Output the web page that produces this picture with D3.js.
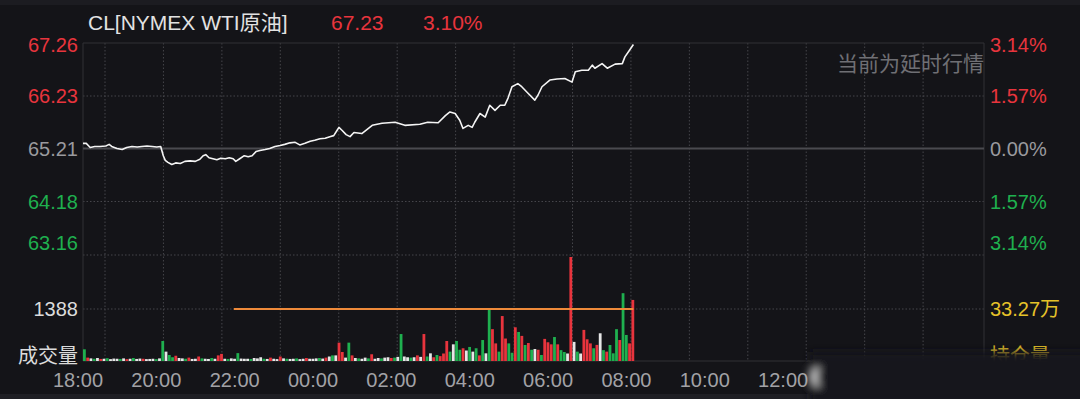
<!DOCTYPE html>
<html>
<head>
<meta charset="utf-8">
<script src="https://cdn.jsdelivr.net/npm/d3@7"></script>
<style>
  html, body { margin: 0; padding: 0; background: #141418; }
  svg { display: block; font-family: "Liberation Sans", "Noto Sans CJK SC", sans-serif; }
</style>
</head>
<body>
<div id="chart"></div>
<script>
// 分时数据: 距 18:00 的分钟数 和 价格
const priceMinutes = [
  0, 5, 11, 18, 26, 35, 40, 44, 52, 60,
  67, 75, 83, 90, 98, 106, 113, 119, 123, 126,
  130, 136, 142, 149, 156, 164, 172, 179, 184, 188,
  193, 199, 205, 211, 218, 224, 230, 234, 240, 247,
  253, 259, 265, 271, 279, 286, 294, 302, 309, 317,
  325, 332, 340, 348, 355, 363, 371, 378, 384, 389,
  392, 397, 403, 409, 415, 427, 443, 458, 478, 493,
  516, 528, 544, 555, 562, 570, 577, 582, 590, 596,
  600, 608, 616, 623, 631, 639, 646, 651, 657, 666,
  672, 682, 692, 697, 703, 715, 726, 738, 749, 754,
  764, 774, 780, 784, 795, 803, 815, 826, 830, 836,
  843
];
const priceValues = [
  65.31, 65.31, 65.23, 65.25, 65.25, 65.26, 65.29, 65.25, 65.21, 65.19,
  65.23, 65.25, 65.24, 65.25, 65.26, 65.25, 65.24, 65.25, 65.07, 64.98,
  64.94, 64.90, 64.93, 64.92, 64.96, 64.97, 64.96, 65.00, 65.07, 65.09,
  65.03, 65.01, 64.99, 65.02, 65.01, 65.03, 65.01, 64.96, 65.01, 65.07,
  65.05, 65.07, 65.15, 65.17, 65.19, 65.21, 65.25, 65.27, 65.29, 65.32,
  65.33, 65.28, 65.31, 65.35, 65.37, 65.40, 65.41, 65.44, 65.46, 65.56,
  65.62, 65.56, 65.48, 65.44, 65.52, 65.50, 65.66, 65.70, 65.72, 65.66,
  65.68, 65.72, 65.71, 65.85, 65.92, 65.89, 65.76, 65.60, 65.66, 65.62,
  65.72, 65.89, 65.82, 66.05, 65.95, 66.05, 66.05, 66.19, 66.41, 66.47,
  66.41, 66.28, 66.15, 66.25, 66.41, 66.54, 66.56, 66.57, 66.50, 66.70,
  66.73, 66.73, 66.83, 66.77, 66.86, 66.77, 66.85, 66.86, 66.99, 67.10,
  67.23
];

const prevClose = 65.21;
const priceTicks = [67.26, 66.23, 65.21, 64.18, 63.16];
const pctTicks = ["3.14%", "1.57%", "0.00%", "1.57%", "3.14%"];

// 5分钟成交量, 颜色: r 涨 g 跌 w 平
const volValues = [
  312, 90, 70, 60, 80, 55, 60, 75, 50, 65,
  60, 55, 70, 50, 60, 80, 55, 65, 60, 50,
  55, 60, 50, 70, 534, 250, 160, 100, 140, 80,
  70, 60, 90, 55, 60, 120, 70, 60, 55, 80,
  60, 150, 190, 60, 55, 70, 60, 210, 65, 60,
  60, 55, 80, 70, 100, 60, 55, 90, 60, 50,
  120, 70, 60, 55, 60, 70, 50, 60, 80, 60,
  60, 70, 80, 65, 90, 120, 150, 150, 490, 240,
  90, 490, 150, 80, 70, 60, 90, 70, 180, 60,
  80, 70, 90, 100, 80, 90, 110, 720, 120, 100,
  90, 100, 150, 110, 720, 120, 205, 100, 160, 130,
  200, 534, 250, 445, 534, 300, 340, 280, 375, 250,
  340, 150, 560, 205, 1388, 850, 470, 250, 1200, 600,
  470, 220, 900, 775, 670, 427, 480, 300, 320, 300,
  160, 590, 500, 445, 640, 445, 290, 240, 200, 2776,
  510, 250, 200, 830, 580, 470, 340, 430, 740, 290,
  250, 427, 205, 850, 560, 1810, 695, 470, 1630
];
const volDirs = [
  "grwgwrwgww", "wgwrwgwwrw", "wwgwgwggrw", "wgrwwrgwwg",
  "wrrwgwwgww", "wgwwwgwrww", "rwgwwgwwrw", "wwgwrwgwrr",
  "wgrwgwwgrw", "wgwwrgwgww", "gwrwrgwrgr", "rrgwggrwgw",
  "grgwgrrgrr", "ggrgrgrgwr", "grrrgrggwr", "wgwrrrgrwg",
  "rgggrggrr"
].join("").split("");
const volBinMinutes = 5;
const volTick = 1388;
const avgLineStart = 231; // 21:51

const timeLabels = ["18:00", "20:00", "22:00", "00:00", "02:00", "04:00",
  "06:00", "08:00", "10:00", "12:00", "14:00", "16:00"];

const W = 1080, H = 399;
const plot = { left: 83, right: 984, top: 43, priceBottom: 254, volTop: 256, volBottom: 361 };
const RED = "#e8343d", GREEN = "#1fb04f", WHITE = "#e6e6e6", GREY = "#9a9a9e";

const svg = d3.select("#chart").append("svg").attr("width", W).attr("height", H);

svg.append("rect").attr("width", W).attr("height", H).attr("fill", "#141418");
svg.append("rect").attr("width", W).attr("height", 5).attr("fill", "#1c1c21");
svg.append("rect").attr("y", 394).attr("width", W).attr("height", 5).attr("fill", "#1f1f24");

const x = d3.scaleLinear().domain([0, 23 * 60]).range([plot.left, plot.right]);
const yPrice = d3.scaleLinear().domain([63.16, 67.26]).range([plot.priceBottom, plot.top]);
const yVol = d3.scaleLinear().domain([0, volTick * 2]).range([plot.volBottom, plot.volTop + 1]);

// 网格
const grid = svg.append("g");
const gridHours = d3.range(15).map((i) => 0.5617 + i * 1.4917);
grid.selectAll(".vline").data(gridHours).enter().append("line")
  .attr("x1", (d) => x(d * 60)).attr("x2", (d) => x(d * 60))
  .attr("y1", plot.top).attr("y2", plot.volBottom)
  .attr("stroke", "#45454a").attr("stroke-dasharray", "1.5,2");

const dottedY = [yPrice(66.23), yPrice(64.18), 255, yVol(volTick)];
grid.selectAll(".hline").data(dottedY).enter().append("line")
  .attr("x1", plot.left).attr("x2", plot.right)
  .attr("y1", (d) => d).attr("y2", (d) => d)
  .attr("stroke", "#45454a").attr("stroke-dasharray", "1.5,2");

// 边框
grid.append("line").attr("x1", plot.left).attr("x2", plot.right)
  .attr("y1", plot.top).attr("y2", plot.top).attr("stroke", "#303035");
grid.append("line").attr("x1", plot.left).attr("x2", plot.right)
  .attr("y1", plot.volBottom).attr("y2", plot.volBottom).attr("stroke", "#303035");
grid.append("line").attr("x1", plot.left).attr("x2", plot.left)
  .attr("y1", plot.top).attr("y2", plot.volBottom).attr("stroke", "#303035");
grid.append("line").attr("x1", plot.right).attr("x2", plot.right)
  .attr("y1", plot.top).attr("y2", plot.volBottom).attr("stroke", "#303035");

// 昨收线
grid.append("line").attr("x1", plot.left).attr("x2", plot.right)
  .attr("y1", yPrice(prevClose)).attr("y2", yPrice(prevClose))
  .attr("stroke", "#4a4a4f").attr("stroke-width", 2);

// 成交量柱
const volData = volValues.map((v, i) => ({ t: i * volBinMinutes, v: v, dir: volDirs[i] }));
const barW = 2.8;
svg.append("g").selectAll("rect").data(volData).enter().append("rect")
  .attr("x", (d) => x(d.t))
  .attr("y", (d) => yVol(d.v))
  .attr("width", barW)
  .attr("height", (d) => plot.volBottom - yVol(d.v))
  .attr("fill", (d) => (d.dir === "r" ? RED : d.dir === "g" ? GREEN : WHITE));

// 均量线
svg.append("line")
  .attr("x1", x(avgLineStart)).attr("x2", x(volValues.length * volBinMinutes - 2))
  .attr("y1", yVol(volTick)).attr("y2", yVol(volTick))
  .attr("stroke", "#ef8a3a").attr("stroke-width", 2);

// 价格线
const priceData = priceMinutes.map((m, i) => ({ t: m, p: priceValues[i] }));
const line = d3.line().x((d) => x(d.t)).y((d) => yPrice(d.p));
svg.append("path").datum(priceData)
  .attr("d", line)
  .attr("fill", "none")
  .attr("stroke", "#f4f4f4")
  .attr("stroke-width", 1.6)
  .attr("stroke-linejoin", "round");

// 左右刻度
const tickColor = (v) => (v > prevClose ? RED : v < prevClose ? GREEN : GREY);
const labelY = (v) => Math.min(Math.max(yPrice(v), 45), 243);

svg.append("g").selectAll("text").data(priceTicks).enter().append("text")
  .attr("x", 78).attr("y", labelY).attr("dy", "0.35em")
  .attr("text-anchor", "end").attr("font-size", 20)
  .attr("fill", tickColor)
  .text((d) => d.toFixed(2));

svg.append("g").selectAll("text").data(priceTicks).enter().append("text")
  .attr("x", 990).attr("y", labelY).attr("dy", "0.35em")
  .attr("font-size", 20)
  .attr("fill", tickColor)
  .text((d, i) => pctTicks[i]);

svg.append("text").attr("x", 78).attr("y", yVol(volTick)).attr("dy", "0.35em")
  .attr("text-anchor", "end").attr("font-size", 20).attr("fill", "#dcdcdc").text(volTick);
svg.append("text").attr("x", 78).attr("y", 356).attr("dy", "0.35em")
  .attr("text-anchor", "end").attr("font-size", 20).attr("fill", "#dcdcdc").text("成交量");
svg.append("text").attr("x", 990).attr("y", yVol(volTick)).attr("dy", "0.35em")
  .attr("font-size", 20).attr("fill", "#e6c229").text("33.27万");
svg.append("text").attr("x", 990).attr("y", 356).attr("dy", "0.35em")
  .attr("font-size", 20).attr("fill", "#e6c229").text("持仓量");

// 时间轴
svg.append("g").selectAll("text").data(timeLabels).enter().append("text")
  .attr("x", (d, i) => x(i * 120) - 5).attr("y", 380).attr("dy", "0.35em")
  .attr("text-anchor", "middle").attr("font-size", 20).attr("fill", "#a2a2a6")
  .text((d) => d);

// 标题
svg.append("text").attr("x", 88).attr("y", 30).attr("font-size", 21)
  .attr("fill", "#e2e2e2").text("CL[NYMEX WTI原油]");
svg.append("text").attr("x", 331).attr("y", 30).attr("font-size", 21)
  .attr("fill", RED).text(priceValues[priceValues.length - 1].toFixed(2));
svg.append("text").attr("x", 423).attr("y", 30).attr("font-size", 21)
  .attr("fill", RED).text("3.10%");
svg.append("text").attr("x", 984).attr("y", 64).attr("dy", "0.35em")
  .attr("text-anchor", "end").attr("font-size", 21).attr("fill", "#6f6f74")
  .text("当前为延时行情");

// 水印遮挡
const defs = svg.append("defs");
defs.append("filter").attr("id", "blur").attr("x", "-20%").attr("y", "-50%")
  .attr("width", "140%").attr("height", "200%")
  .append("feGaussianBlur").attr("stdDeviation", 4);
const wm = svg.append("g").attr("filter", "url(#blur)");
wm.append("rect").attr("x", 810).attr("y", 352).attr("width", 280).attr("height", 54)
  .attr("fill", "#18181c");
wm.append("circle").attr("cx", 818).attr("cy", 377).attr("r", 9).attr("fill", "#d8d8d8");
wm.append("circle").attr("cx", 826).attr("cy", 377).attr("r", 10).attr("fill", "#18181c");
</script>
</body>
</html>
